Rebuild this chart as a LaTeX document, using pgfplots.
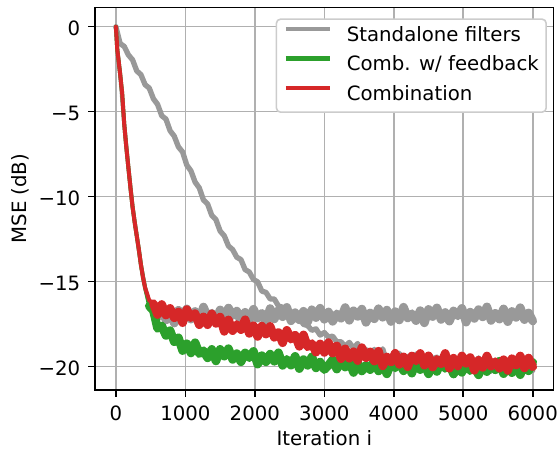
\documentclass[border=0pt]{standalone}
\usepackage{pgfplots}
\pgfplotsset{compat=1.18}
\usepackage{fontspec}
\setmainfont{DejaVu Sans}
\definecolor{cgray}{HTML}{999999}
\definecolor{cgreen}{HTML}{2CA02C}
\definecolor{cred}{HTML}{D62728}
\definecolor{gridc}{HTML}{B0B0B0}
\definecolor{legc}{HTML}{CCCCCC}
\newcommand{\fs}{\fontsize{14.8pt}{17pt}\selectfont}
\begin{document}
\begin{tikzpicture}
\path[use as bounding box] (-71.3pt,-45pt) rectangle (347.2pt,292.5pt);
\begin{axis}[
  at={(0pt,0pt)}, anchor=south west,
  scale only axis, width=343.9pt, height=287pt,
  xmin=-300, xmax=6300, ymin=-21.37, ymax=1.14,
  xtick={0,1000,2000,3000,4000,5000,6000},
  xticklabels={0,1000,2000,3000,4000,5000,6000},
  ytick={-20,-15,-10,-5,0},
  yticklabels={−20,−15,−10,−5,0},
  scaled ticks=false,
  /pgf/number format/assume math mode=true,
  grid=major, major grid style={gridc, line width=1.18pt},
  axis line style={black, line width=1.18pt},
  tick align=outside, tick pos=left, major tick length=5.2pt,
  every tick/.style={black, line width=1.18pt},
  tick label style={font=\fs},
  xticklabel style={anchor=base, inner sep=0pt, yshift=-17.3pt},
  yticklabel style={anchor=east, inner sep=0pt, xshift=-5.7pt, yshift=-1.5pt},
  every axis x label/.style={at={(axis description cs:0.5,0)}, anchor=base, inner sep=0pt, yshift=-41.5pt, font=\fs},
  every axis y label/.style={at={(axis description cs:-0.1492,0.5)}, rotate=90, anchor=base, inner sep=0pt, font=\fs},
  xlabel={Iteration i}, ylabel={MSE (dB)},
  every axis plot/.append style={line width=3pt, line join=round, line cap=round, mark=none},
  legend style={at={(1,1)}, anchor=north east, xshift=-5pt, yshift=-8.3pt,
    draw=legc, line width=1.18pt, rounded corners=3pt, fill=white,
    font=\fs, inner xsep=5.5pt, inner ysep=5.2pt, row sep=7.6pt, column sep=10.8pt,
    nodes={inner sep=0pt, text height=11.2pt, text depth=3.5pt}},
  legend cell align=left,
  legend image code/.code={\draw[line width=3.2pt, line cap=butt] (0pt,5.4pt) -- (33.3pt,5.4pt);},
]
% standalone filter 1 (fast)
\addplot[cgray] coordinates {(0,0) (20,-1.35) (60,-2.75) (120,-5.74) (180,-8.3) (240,-10.6) (300,-12.3) (360,-14.0) (420,-15.35) (480,-16.27) (540,-16.52)};
\addlegendentry{Standalone filters}
\addplot[cgray, forget plot, line width=6.5pt] coordinates {(540,-16.52) (600,-17.07) (660,-16.57) (720,-17.25) (780,-16.83) (840,-17.43) (900,-16.68) (960,-17.03) (1020,-16.60) (1080,-17.20) (1140,-16.75) (1200,-17.35) (1260,-16.49) (1320,-17.10) (1380,-16.85) (1440,-17.31) (1500,-16.66) (1560,-17.22) (1620,-16.55) (1680,-17.00) (1740,-16.73) (1800,-17.37) (1860,-16.80) (1920,-17.26) (1980,-16.62) (2040,-17.14) (2100,-16.87) (2160,-17.41) (2220,-16.58) (2280,-17.19) (2340,-16.69) (2400,-17.06) (2460,-16.51) (2520,-17.30) (2580,-16.82) (2640,-17.24) (2700,-16.74) (2760,-17.36) (2820,-16.65) (2880,-17.11) (2940,-16.56) (3000,-17.21) (3060,-16.78) (3120,-17.33) (3180,-16.89) (3240,-17.15) (3300,-16.52) (3360,-17.27) (3420,-16.71) (3480,-17.04) (3540,-16.61) (3600,-17.39) (3660,-16.84) (3720,-17.18) (3780,-16.59) (3840,-17.09) (3900,-16.67) (3960,-17.34) (4020,-16.76) (4080,-17.25) (4140,-16.50) (4200,-17.13) (4260,-16.88) (4320,-17.29) (4380,-16.70) (4440,-17.42) (4500,-16.63) (4560,-17.05) (4620,-16.54) (4680,-17.22) (4740,-16.81) (4800,-17.32) (4860,-16.72) (4920,-17.01) (4980,-16.57) (5040,-17.38) (5100,-16.79) (5160,-17.16) (5220,-16.64) (5280,-17.07) (5340,-16.48) (5400,-17.28) (5460,-16.86) (5520,-17.20) (5580,-16.60) (5640,-17.35) (5700,-16.75) (5760,-17.10) (5820,-16.53) (5880,-17.23) (5940,-16.84) (6000,-17.31)};
% standalone filter 2 (slow)
\addplot[cgray, forget plot, line width=4pt] coordinates {(0,0) (30,-0.5) (60,-0.99) (120,-1.16) (180,-1.66) (240,-1.95) (300,-2.60) (360,-2.82) (420,-3.41) (480,-3.61) (540,-4.24) (600,-4.57) (660,-5.24) (720,-5.43) (780,-6.12) (840,-6.44) (900,-7.07) (960,-7.37) (1020,-8.14) (1080,-8.48) (1140,-9.14) (1200,-9.48) (1260,-10.19) (1320,-10.43) (1380,-11.10) (1440,-11.35) (1500,-12.02) (1560,-12.30) (1620,-12.90) (1680,-13.11) (1740,-13.56) (1800,-13.70) (1860,-14.29) (1920,-14.43) (1980,-14.87) (2040,-15.01) (2100,-15.55) (2160,-15.63) (2220,-16.01) (2280,-16.02) (2340,-16.43) (2400,-16.50) (2460,-16.92) (2520,-16.89) (2580,-17.25) (2640,-17.14) (2700,-17.51) (2760,-17.58) (2820,-17.86) (2880,-17.77) (2940,-18.14) (3000,-17.99) (3060,-18.26) (3120,-18.20) (3180,-18.55) (3240,-18.53) (3300,-18.81) (3360,-18.57) (3420,-18.92) (3480,-18.63) (3540,-19.44) (3600,-18.98) (3660,-19.38) (3720,-18.98) (3780,-19.43) (3840,-18.95) (3900,-19.72) (3960,-19.39) (4020,-19.74) (4080,-19.21) (4140,-19.92) (4200,-19.40) (4260,-19.74) (4320,-19.25) (4380,-19.90) (4440,-19.58) (4500,-20.02) (4560,-19.53) (4620,-19.44) (4680,-19.99) (4740,-19.37) (4800,-19.87) (4860,-19.54) (4920,-20.19) (4980,-19.64) (5040,-20.10) (5100,-19.76) (5160,-20.02) (5220,-19.48) (5280,-20.10) (5340,-19.72) (5400,-20.27) (5460,-19.61) (5520,-19.92) (5580,-19.54) (5640,-20.09) (5700,-19.69) (5760,-20.24) (5820,-19.47) (5880,-20.03) (5940,-19.80) (6000,-20.22)};
% combination with feedback
\addplot[cgreen] coordinates {(0,0) (20,-1.35) (60,-2.75) (90,-3.9) (120,-5.74) (150,-7.1) (180,-8.3) (210,-9.5) (240,-10.6) (270,-11.5) (300,-12.3) (330,-13.1) (360,-14.0) (390,-14.75) (420,-15.35) (480,-16.43)};
\addlegendentry{Comb. w/ feedback}
\addplot[cgreen, forget plot, line width=6.5pt] coordinates {(480,-16.43) (540,-16.70) (600,-17.75) (660,-17.60) (720,-18.16) (780,-17.88) (840,-18.53) (900,-18.30) (960,-19.05) (1020,-18.65) (1080,-19.19) (1140,-18.59) (1200,-19.23) (1260,-19.06) (1320,-19.48) (1380,-18.98) (1440,-19.66) (1500,-18.98) (1560,-19.38) (1620,-18.94) (1680,-19.57) (1740,-19.23) (1800,-19.71) (1860,-19.19) (1920,-19.47) (1980,-19.10) (2040,-19.85) (2100,-19.35) (2160,-19.71) (2220,-19.26) (2280,-19.68) (2340,-19.18) (2400,-19.92) (2460,-19.57) (2520,-19.91) (2580,-19.39) (2640,-20.11) (2700,-19.58) (2760,-19.92) (2820,-19.42) (2880,-20.07) (2940,-19.73) (3000,-20.17) (3060,-19.91) (3120,-19.59) (3180,-20.14) (3240,-19.52) (3300,-20.02) (3360,-19.69) (3420,-20.34) (3480,-19.79) (3540,-20.25) (3600,-19.91) (3660,-20.17) (3720,-19.63) (3780,-20.25) (3840,-19.87) (3900,-20.42) (3960,-19.76) (4020,-20.07) (4080,-19.69) (4140,-20.24) (4200,-19.84) (4260,-20.38) (4320,-19.62) (4380,-20.17) (4440,-19.83) (4500,-20.42) (4560,-19.78) (4620,-20.28) (4680,-19.69) (4740,-20.10) (4800,-19.85) (4860,-20.43) (4920,-19.92) (4980,-20.33) (5040,-19.76) (5100,-20.23) (5160,-19.99) (5220,-20.48) (5280,-19.74) (5340,-20.29) (5400,-19.84) (5460,-20.18) (5520,-19.68) (5580,-20.41) (5640,-19.97) (5700,-20.35) (5760,-19.90) (5820,-20.47) (5880,-19.83) (5940,-20.24) (6000,-19.75)};
% combination
\addplot[cred] coordinates {(0,0) (20,-1.35) (60,-2.75) (90,-3.9) (120,-5.74) (150,-7.1) (180,-8.3) (210,-9.5) (240,-10.6) (270,-11.5) (300,-12.3) (330,-13.1) (360,-14.0) (390,-14.75) (420,-15.35) (480,-16.10) (540,-16.29)};
\addlegendentry{Combination}
\addplot[cred, forget plot, line width=6.5pt] coordinates {(540,-16.29) (600,-16.93) (660,-16.34) (720,-16.96) (780,-16.57) (840,-17.12) (900,-16.78) (960,-17.41) (1020,-16.64) (1080,-17.12) (1140,-16.88) (1200,-17.53) (1260,-17.07) (1320,-17.53) (1380,-16.89) (1440,-17.45) (1500,-17.08) (1560,-17.92) (1620,-17.25) (1680,-17.88) (1740,-17.52) (1800,-17.82) (1860,-17.24) (1920,-18.04) (1980,-17.59) (2040,-18.22) (2100,-17.61) (2160,-18.08) (2220,-17.63) (2280,-18.27) (2340,-17.99) (2400,-18.59) (2460,-17.86) (2520,-18.38) (2580,-18.15) (2640,-18.80) (2700,-18.13) (2760,-18.83) (2820,-18.64) (2880,-19.14) (2940,-18.66) (3000,-19.16) (3060,-18.58) (3120,-19.20) (3180,-18.78) (3240,-19.53) (3300,-18.95) (3360,-19.50) (3420,-19.12) (3480,-19.64) (3540,-18.88) (3600,-19.47) (3660,-19.13) (3720,-19.67) (3780,-19.09) (3840,-19.95) (3900,-19.43) (3960,-19.72) (4020,-19.21) (4080,-19.86) (4140,-19.42) (4200,-20.00) (4260,-19.37) (4320,-19.66) (4380,-19.22) (4440,-19.91) (4500,-19.36) (4560,-20.02) (4620,-19.57) (4680,-19.82) (4740,-19.22) (4800,-20.09) (4860,-19.50) (4920,-19.96) (4980,-19.37) (5040,-19.80) (5100,-19.46) (5160,-20.21) (5220,-19.62) (5280,-20.04) (5340,-19.37) (5400,-19.97) (5460,-19.71) (5520,-20.09) (5580,-19.59) (5640,-20.22) (5700,-19.53) (5760,-19.90) (5820,-19.37) (5880,-20.07) (5940,-19.49) (6000,-20.00)};
\end{axis}
\end{tikzpicture}
\end{document}
